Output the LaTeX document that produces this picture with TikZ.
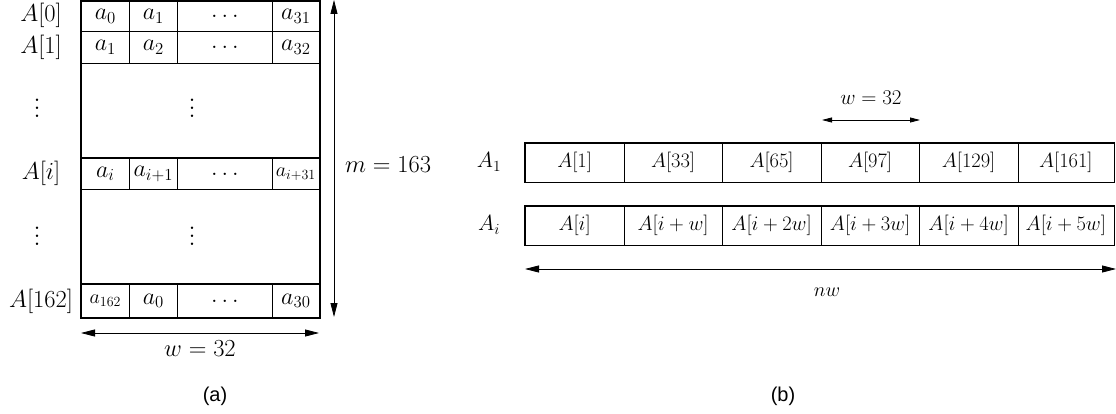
\RequirePackage{fix-cm}
\documentclass[tikz,border=0pt]{standalone}
\usepackage{fontspec}
\newfontfamily\capfont{Liberation Sans}
\usetikzlibrary{arrows.meta}
\newcommand\tallvdots{\vbox{\baselineskip8pt\lineskiplimit-10pt\hbox{.}\hbox{.}\hbox{.}}}
\tikzset{
  lbl/.style={inner sep=0pt, font=\fontsize{24.5}{28}\selectfont},
  dotlbl/.style={inner sep=0pt, font=\fontsize{30}{34}\selectfont},
  acell/.style={draw, line width=0.7pt, anchor=north west, inner sep=0pt,
    font=\fontsize{24}{28}\selectfont, minimum height=#1},
  acell/.default=30pt,
  gapcell/.style={anchor=north west, inner sep=0pt, minimum width=238pt, minimum height=95pt},
  bcell/.style={draw, line width=0.7pt, anchor=north west, inner sep=0pt,
    minimum width=98.5pt, minimum height=39pt, font=\fontsize{20.5}{24}\selectfont},
  blbl/.style={inner sep=0pt, font=\fontsize{22}{26}\selectfont},
  thick line/.style={line width=1.6pt},
  dimarrow/.style={line width=0.8pt, {Triangle[length=14pt,width=7pt]}-{Triangle[length=14pt,width=7pt]}},
  smallarrow/.style={line width=0.8pt, {Triangle[length=10pt,width=5pt]}-{Triangle[length=10pt,width=5pt]}},
  capt/.style={inner sep=0pt, font=\capfont\fontsize{20}{24}\selectfont},
}
\begin{document}
\begin{tikzpicture}[x=1pt,y=-1pt]
\useasboundingbox (0,0) rectangle (1116,414);
% ---------- (a) ----------
% row 0
\node[acell=30pt, minimum width=48pt] (r0a) at (81,1) {$a_0$};
\node[acell=30pt, minimum width=48pt] (r0b) at (129,1) {$a_1$};
\node[acell=30pt, minimum width=95pt] (r0c) at (177,1) {$\ldots$};
\node[acell=30pt, minimum width=47pt] (r0d) at (272,1) {$a_{31}$};
% row 1
\node[acell=32pt, minimum width=48pt] (r1a) at (81,31) {$a_1$};
\node[acell=32pt, minimum width=48pt] (r1b) at (129,31) {$a_2$};
\node[acell=32pt, minimum width=95pt] (r1c) at (177,31) {$\ldots$};
\node[acell=32pt, minimum width=47pt] (r1d) at (272,31) {$a_{32}$};
% gap 1
\node[gapcell] (g1) at (81,63) {};
% row i
\node[acell=31pt, minimum width=48pt] (ria) at (81,158) {$a_i$};
\node[acell=31pt, minimum width=48pt] (rib) at (129,158) {$a_{i+1}$};
\node[acell=31pt, minimum width=95pt] (ric) at (177,158) {$\ldots$};
\node[acell=31pt, minimum width=47pt, font=\fontsize{20}{24}\selectfont] (rid) at (272,158) {$a_{i+31}$};
% gap 2
\node[gapcell] (g2) at (81,189) {};
% row 162
\node[acell=33pt, minimum width=48pt, font=\fontsize{20}{24}\selectfont] (rza) at (81,284) {$a_{162}$};
\node[acell=33pt, minimum width=48pt] (rzb) at (129,284) {$a_0$};
\node[acell=33pt, minimum width=95pt] (rzc) at (177,284) {$\ldots$};
\node[acell=33pt, minimum width=47pt] (rzd) at (272,284) {$a_{30}$};
% thick frame and row separators
\draw[thick line] (r0a.north west) rectangle (rzd.south east);
\draw[thick line] (r0a.south west) -- (r0d.south east);
\draw[thick line] (r1a.south west) -- (r1d.south east);
\draw[thick line] (ria.north west) -- (rid.north east);
\draw[thick line] (ria.south west) -- (rid.south east);
\draw[thick line] (rza.north west) -- (rzd.north east);
% middle dots
\node[dotlbl] (md1) at (192,108) {\tallvdots};
\node[dotlbl] (md2) at (192,236) {\tallvdots};
% row labels
\node[lbl] (l0) at (41,15) {$A[0]$};
\node[lbl] (l1) at (41,47) {$A[1]$};
\node[dotlbl] (ld1) at (37,108) {\tallvdots};
\node[lbl] (li) at (41,173) {$A[i]$};
\node[dotlbl] (ld2) at (37,236) {\tallvdots};
\node[lbl] (lz) at (41,301) {$A[162]$};
% dimension m
\coordinate (mt) at (334,0);
\coordinate (mb) at (334,317);
\draw[dimarrow] (mt) -- (mb);
\node[lbl, anchor=west] (mlab) at (345,165) {$m=163$};
% dimension w
\coordinate (wl) at (81,333);
\coordinate (wr) at (319,333);
\draw[dimarrow] (wl) -- (wr);
\node[lbl] (wlab) at (200,349) {$w=32$};
\node[capt] (capa) at (215,396) {(a)};
% ---------- (b) ----------
\node[bcell] (p1) at (525,143) {$A[1]$};
\node[bcell] (p2) at (623.5,143) {$A[33]$};
\node[bcell] (p3) at (722,143) {$A[65]$};
\node[bcell] (p4) at (820.5,143) {$A[97]$};
\node[bcell] (p5) at (919,143) {$A[129]$};
\node[bcell, minimum width=96pt] (p6) at (1017.5,143) {$A[161]$};
\node[bcell] (q1) at (525,206) {$A[i]$};
\node[bcell] (q2) at (623.5,206) {$A[i+w]$};
\node[bcell] (q3) at (722,206) {$A[i+2w]$};
\node[bcell] (q4) at (820.5,206) {$A[i+3w]$};
\node[bcell] (q5) at (919,206) {$A[i+4w]$};
\node[bcell, minimum width=96pt] (q6) at (1017.5,206) {$A[i+5w]$};
\draw[line width=1.1pt] (p1.north west) rectangle (p6.south east);
\draw[line width=1.1pt] (q1.north west) rectangle (q6.south east);
\node[blbl] (la1) at (489,162) {$A_1$};
\node[blbl] (lai) at (489,225) {$A_i$};
\coordinate (bwl) at (822,120);
\coordinate (bwr) at (920,120);
\draw[smallarrow] (bwl) -- (bwr);
\node[blbl, font=\fontsize{21}{25}\selectfont] (bwlab) at (871,98) {$w=32$};
\coordinate (nl) at (525,269);
\coordinate (nr) at (1116,269);
\draw[dimarrow] (nl) -- (nr);
\node[blbl, font=\fontsize{20}{24}\selectfont] (nwlab) at (827,292) {$nw$};
\node[capt] (capb) at (783,396) {(b)};
\end{tikzpicture}
\end{document}
